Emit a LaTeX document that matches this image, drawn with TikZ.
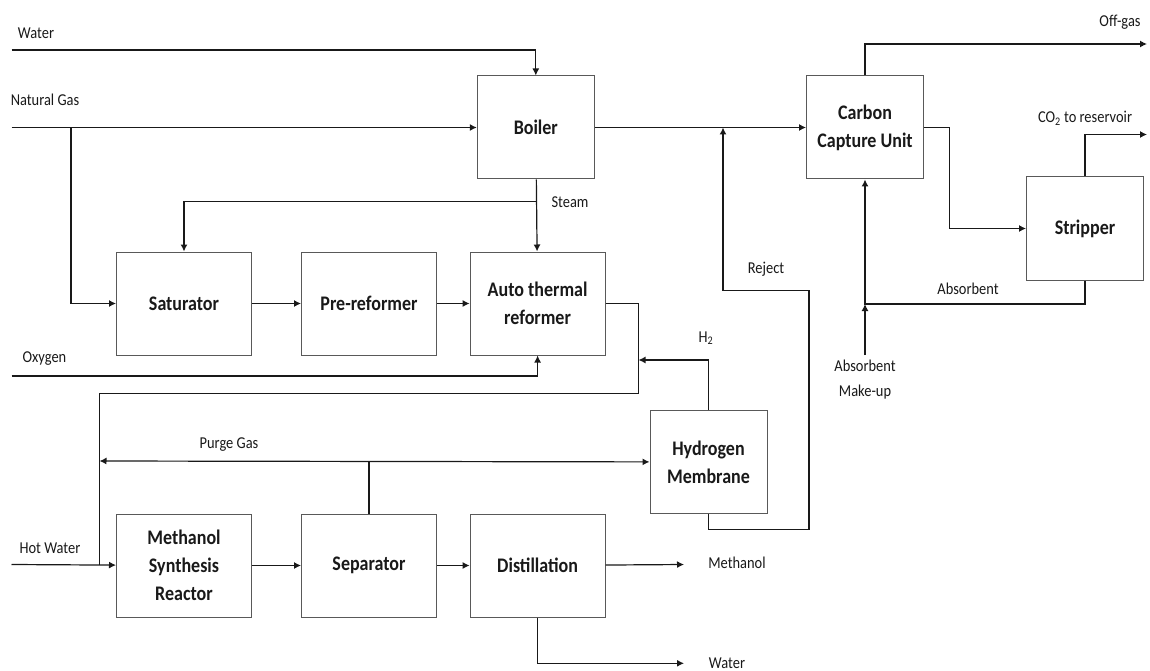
\documentclass[tikz,border=0pt]{standalone}
\usepackage{fontspec}
\setmainfont[FakeStretch=0.87]{Carlito}
\usepackage{tikz}
\usetikzlibrary{arrows.meta,positioning}

\begin{document}
\begin{tikzpicture}[x=1pt, y=-1pt, >={Latex[length=7pt,width=7pt]},
  black!90, line width=1.2pt, node distance=49pt,
  font=\fontsize{16.6}{25}\selectfont,
  unit/.style={draw=black!65, line width=1pt, minimum width=135pt, minimum height=103pt,
    align=center, font=\bfseries\fontsize{20.7}{28}\selectfont},
  unitS/.style={unit, minimum width=117pt},
  lbl/.style={align=center}]
  \useasboundingbox (0,0) rectangle (1150,671);

  % process units
  \node[unitS] (boiler) at (535.8,127.5) {Boiler};
  \node[unitS] (ccu) at (865,127.5) {Carbon\\Capture Unit};
  \node[unitS] (strip) at (1085,228.5) {Stripper};
  \node[unit] (sat) at (184,303.5) {Saturator};
  \node[unit, right=of sat] (pre) {Pre-reformer};
  \node[unit, right=32.6pt of pre] (atr) {Auto thermal\\reformer};
  \node[unitS] (hm) at (708.5,462) {Hydrogen\\Membrane};
  \node[unit, below=158pt of sat] (msr) {Methanol\\Synthesis\\Reactor};
  \node[unit, right=of msr] (sep) {Separator};
  \node[unit, right=32.6pt of sep] (dist) {Distillation};

  % stream ends and bends
  \coordinate (waterIn) at (11.5,50);
  \coordinate (gasIn) at (11.5,127.5);
  \coordinate (gasTap) at (71,127.5);
  \coordinate (steamTap) at (535.8,201.7);
  \coordinate (oxIn) at (11.5,376);
  \coordinate (synA) at (638.5,393.3);
  \coordinate (synB) at (99.5,564.5);
  \coordinate (hotIn) at (11.5,564.5);
  \coordinate (h2In) at (638.5,360);
  \coordinate (purgeEnd) at (99.5,461);
  \coordinate (rejA) at (809,529.3);
  \coordinate (rejB) at (723,290.7);
  \coordinate (rejEnd) at (723,127.5);
  \coordinate (offOut) at (1147,44);
  \coordinate (co2Out) at (1147,134.5);
  \coordinate (ccuTurn) at (949.5,127.5);
  \coordinate (absJoin) at (865,304);
  \coordinate (mkIn) at (865,355);
  \coordinate (meOut) at (684,564.5);
  \coordinate (wOut) at (684,663.3);

  % stream labels
  \node[lbl] (lWater) at (36,33) {Water};
  \node[lbl] (lGas) at (45,100) {Natural Gas};
  \node[lbl] (lSteam) at (570,202) {Steam};
  \node[lbl] (lOx) at (44.5,359) {Oxygen};
  \node[lbl] (lH2) at (706,338) {H\textsubscript{2}};
  \node[lbl] (lPurge) at (229,445) {Purge Gas};
  \node[lbl] (lHot) at (50,548) {Hot Water};
  \node[lbl] (lMe) at (737,563) {Methanol};
  \node[lbl] (lWout) at (727,663) {Water};
  \node[lbl] (lRej) at (766,269) {Reject};
  \node[lbl] (lOff) at (1120,22) {Off-gas};
  \node[lbl] (lCO2) at (1085,118) {CO\textsubscript{2} to reservoir};
  \node[lbl] (lAbs) at (968,289) {Absorbent};
  \node[lbl] (lMk) at (865,380) {Absorbent\\Make-up};

  % reforming
  \draw[->] (waterIn) -| (boiler);
  \draw[->] (gasIn) -- (boiler);
  \draw[->] (gasTap) |- (sat);
  \draw[->] (boiler) -- (atr);
  \draw[->] (steamTap) -| (sat);
  \draw[->] (sat) -- (pre);
  \draw[->] (pre) -- (atr);
  \draw[->] (oxIn) -| (atr);
  \draw (atr) -| (synA) -| (synB);
  \draw[->] (hotIn) -- (msr);

  % synthesis loop
  \draw[->] (hm) |- (h2In);
  \draw[<->] (purgeEnd) -- (hm);
  \draw (sep) -- (sep |- purgeEnd);
  \draw[->] (msr) -- (sep);
  \draw[->] (sep) -- (dist);
  \draw[->] (dist) -- (meOut);
  \draw[->] (dist) |- (wOut);
  \draw[->] (hm) |- (rejA) |- (rejB) -- (rejEnd);

  % carbon capture
  \draw[->] (boiler) -- (ccu);
  \draw[->] (ccu) |- (offOut);
  \draw[->] (ccu) -- (ccuTurn) |- (strip);
  \draw[->] (strip) |- (co2Out);
  \draw[->] (strip) |- (absJoin) -- (ccu);
  \draw[->] (mkIn) -- (absJoin);
\end{tikzpicture}
\end{document}
